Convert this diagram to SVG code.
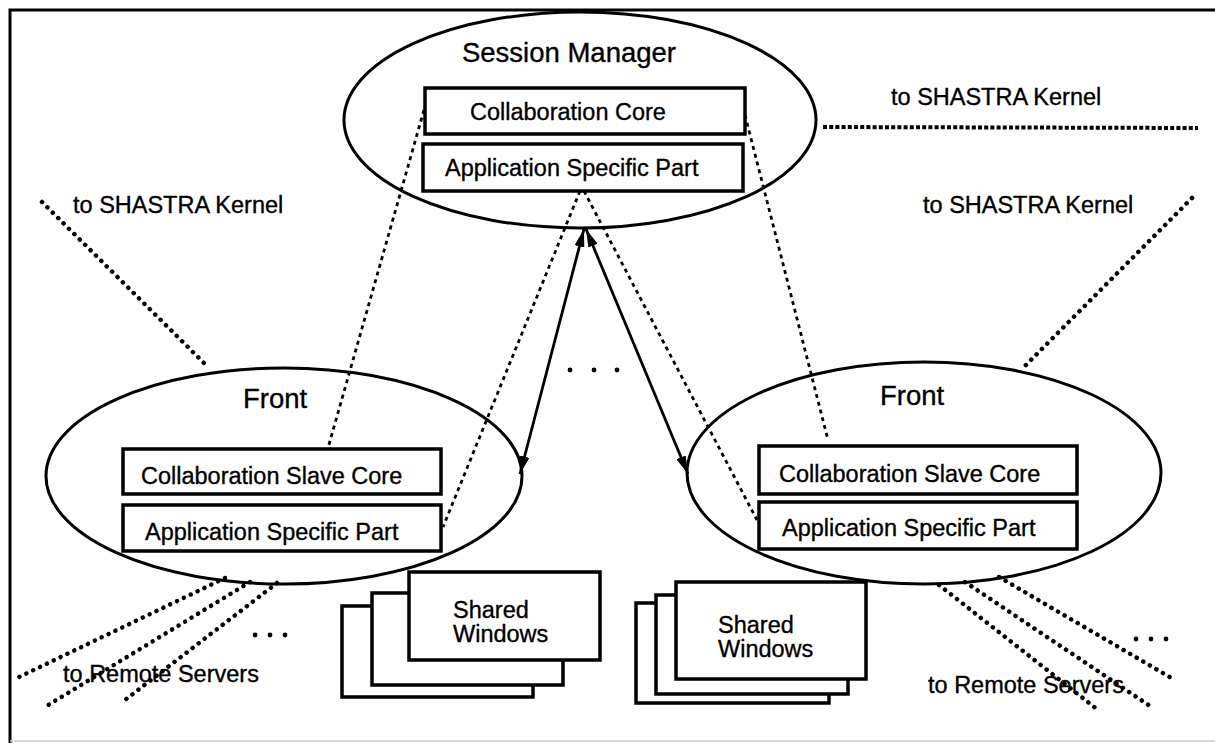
<svg xmlns="http://www.w3.org/2000/svg" width="1215" height="743" viewBox="0 0 1215 743">
<style>
.t{font-family:"Liberation Sans",Arial,Helvetica,sans-serif;fill:#000;stroke:#000;stroke-width:0.35}
.lbl{font-size:23.5px}
.ttl{font-size:27.5px}
.ell{fill:none;stroke:#000;stroke-width:3}
.box{fill:#fff;stroke:#000;stroke-width:3.5}
.thin{fill:none;stroke:#000;stroke-width:2.8;stroke-dasharray:4 4}
.dots{fill:none;stroke:#000;stroke-width:4.5;stroke-linecap:round;stroke-dasharray:0.1 7.5}
.sq{fill:none;stroke:#000;stroke-width:4;stroke-dasharray:4 2.2}
.arr{fill:none;stroke:#000;stroke-width:2.8}
.dot{fill:#000}
</style>
<defs>
<marker id="ah" viewBox="0 0 18 10" refX="18" refY="5" markerWidth="18" markerHeight="10" markerUnits="userSpaceOnUse" orient="auto-start-reverse">
<path d="M0,0 L18,5 L0,10 z" fill="#000"/>
</marker>
</defs>
<rect x="0" y="0" width="1215" height="743" fill="#fff"/>
<g id="frame">
<path d="M10,743 V10 H1215" fill="none" stroke="#000" stroke-width="3"/>
<path d="M10,741 H1215" fill="none" stroke="#ccc" stroke-width="1.5"/>
</g>
<g id="session-manager">
<ellipse class="ell" cx="580" cy="120" rx="236" ry="108"/>
<text class="t ttl" x="569" y="62" text-anchor="middle">Session Manager</text>
<rect class="box" x="425" y="88" width="320" height="46"/>
<text class="t lbl" x="470" y="120">Collaboration Core</text>
<rect class="box" x="423" y="144" width="320" height="47"/>
<text class="t lbl" x="445" y="176">Application Specific Part</text>
</g>
<g id="front-left">
<ellipse class="ell" cx="284" cy="476" rx="238" ry="108"/>
<text class="t ttl" x="243" y="408">Front</text>
<rect class="box" x="123" y="449" width="318" height="45"/>
<text class="t lbl" x="141" y="484">Collaboration Slave Core</text>
<rect class="box" x="123" y="505" width="318" height="46"/>
<text class="t lbl" x="145" y="540">Application Specific Part</text>
</g>
<g id="front-right">
<ellipse class="ell" cx="924" cy="473" rx="237" ry="111"/>
<text class="t ttl" x="880" y="405">Front</text>
<rect class="box" x="759" y="446" width="318" height="48"/>
<text class="t lbl" x="779" y="482">Collaboration Slave Core</text>
<rect class="box" x="759" y="502" width="318" height="47"/>
<text class="t lbl" x="782" y="536">Application Specific Part</text>
</g>
<g id="shared-left">
<rect class="box" x="342" y="606" width="191" height="91"/>
<rect class="box" x="372" y="593" width="191" height="92"/>
<rect class="box" x="409" y="572" width="191" height="88"/>
<text class="t lbl" x="453" y="618">Shared</text>
<text class="t lbl" x="453" y="642">Windows</text>
</g>
<g id="shared-right">
<rect class="box" x="636" y="603" width="193" height="100"/>
<rect class="box" x="656" y="595" width="192" height="99"/>
<rect class="box" x="676" y="582" width="190" height="97"/>
<text class="t lbl" x="718" y="633">Shared</text>
<text class="t lbl" x="718" y="657">Windows</text>
</g>
<g id="connectors">
<line class="thin" x1="424" y1="110" x2="328" y2="448"/>
<line class="thin" x1="745" y1="115" x2="828" y2="440"/>
<line class="thin" x1="580" y1="191" x2="443" y2="527"/>
<line class="thin" x1="584" y1="191" x2="757" y2="520"/>
<line class="arr" x1="584" y1="229" x2="520" y2="474" marker-start="url(#ah)" marker-end="url(#ah)"/>
<line class="arr" x1="586" y1="229" x2="688" y2="474" marker-start="url(#ah)" marker-end="url(#ah)"/>
<line class="sq" x1="823" y1="127" x2="1198" y2="128"/>
<line class="dots" x1="42" y1="202" x2="208" y2="367"/>
<line class="dots" x1="1192" y1="198" x2="1023" y2="368"/>
<line class="dots" x1="225" y1="578" x2="15" y2="679"/>
<line class="dots" x1="250" y1="582" x2="45" y2="707"/>
<line class="dots" x1="277" y1="583" x2="125" y2="700"/>
<line class="dots" x1="939" y1="585" x2="1098" y2="710"/>
<line class="dots" x1="965" y1="582" x2="1153" y2="708"/>
<line class="dots" x1="999" y1="577" x2="1173" y2="679"/>
</g>
<g id="labels">
<text class="t lbl" x="891" y="105">to SHASTRA Kernel</text>
<text class="t lbl" x="73" y="213">to SHASTRA Kernel</text>
<text class="t lbl" x="923" y="213">to SHASTRA Kernel</text>
<text class="t lbl" x="63" y="682">to Remote Servers</text>
<text class="t lbl" x="928" y="693">to Remote Servers</text>
<circle class="dot" cx="570" cy="370" r="2.4"/>
<circle class="dot" cx="594" cy="370" r="2.4"/>
<circle class="dot" cx="617" cy="370" r="2.4"/>
<circle class="dot" cx="255" cy="635" r="2.4"/>
<circle class="dot" cx="270" cy="635" r="2.4"/>
<circle class="dot" cx="285" cy="635" r="2.4"/>
<circle class="dot" cx="1136" cy="639" r="2.4"/>
<circle class="dot" cx="1151" cy="639" r="2.4"/>
<circle class="dot" cx="1166" cy="639" r="2.4"/>
</g>
</svg>
